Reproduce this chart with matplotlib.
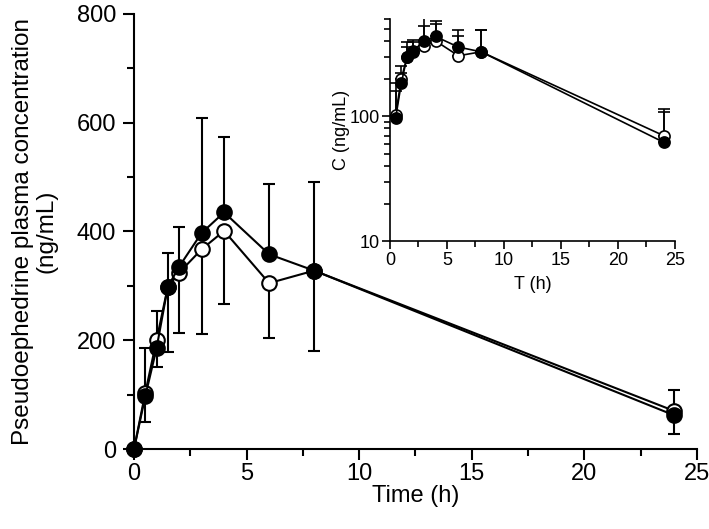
import matplotlib
matplotlib.use('Agg')
import matplotlib.pyplot as plt
import numpy as np
from matplotlib.ticker import MultipleLocator, LogLocator, NullFormatter, FixedLocator

# sampling times (h)
time = [0, 0.5, 1, 1.5, 2, 3, 4, 6, 8, 24]

# mean concentrations (ng/mL)
conc_open = [0, 103, 200, 298, 324, 367, 401, 305, 328, 70]
conc_filled = [0, 97, 185, 298, 335, 397, 435, 358, 328, 62]

# error bars (SD)
sd_filled_up = [0, 88, 69, 62, 74, 211, 139, 129, 163, 47]
sd_open_lo = [0, 53, 50, 119, 111, 156, 135, 100, 148, 43]
sd_open_up = [0, 57, 21, 95, 70, 165, 150, 130, 160, 44]

plt.rcParams['font.family'] = ['Liberation Sans', 'DejaVu Sans']

fig = plt.figure(figsize=(7.09, 5.29), dpi=100)
ax = fig.add_axes([0.189, 0.151, 0.794, 0.823])

zeros = [0] * len(time)
ax.errorbar(time, conc_open, yerr=[sd_open_lo, zeros], fmt='none',
            ecolor='black', elinewidth=1.5, capsize=4.5, capthick=1.5, zorder=2)
ax.errorbar(time, conc_filled, yerr=[zeros, sd_filled_up], fmt='none',
            ecolor='black', elinewidth=1.5, capsize=4.5, capthick=1.5, zorder=2)
ax.plot(time, conc_open, '-o', color='black', mfc='white', mec='black',
        ms=10.5, mew=1.5, lw=1.5, zorder=3, clip_on=False)
ax.plot(time, conc_filled, '-o', color='black', mfc='black', mec='black',
        ms=10.5, mew=1.5, lw=1.5, zorder=4, clip_on=False)

ax.set_xlim(0, 25)
ax.set_ylim(0, 800)
for s in ['top', 'right']:
    ax.spines[s].set_visible(False)
for s in ['left', 'bottom']:
    ax.spines[s].set_linewidth(1.5)
ax.xaxis.set_major_locator(MultipleLocator(5))
ax.xaxis.set_minor_locator(MultipleLocator(2.5))
ax.yaxis.set_major_locator(MultipleLocator(200))
ax.yaxis.set_minor_locator(MultipleLocator(100))
ax.tick_params(which='major', direction='out', length=8, width=1.5, labelsize=17)
ax.tick_params(axis='x', which='major', pad=2)
ax.tick_params(axis='y', which='major', pad=5)
ax.tick_params(which='minor', direction='out', length=5, width=1.5)
ax.set_xlabel('Time (h)', fontsize=17, labelpad=0)
ax.set_ylabel('Pseudoephedrine plasma concentration\n(ng/mL)', fontsize=17.5, labelpad=14,
              linespacing=1.05)

# inset with log scale
ins = fig.add_axes([0.550, 0.544, 0.402, 0.420])
t_in = time[1:]
none_lo = [0] * len(t_in)
ins.errorbar(t_in, conc_open[1:], yerr=[none_lo, sd_open_up[1:]], fmt='none',
             ecolor='black', elinewidth=1.2, capsize=4, capthick=1.2, zorder=2)
ins.errorbar(t_in, conc_filled[1:], yerr=[none_lo, sd_filled_up[1:]], fmt='none',
             ecolor='black', elinewidth=1.2, capsize=4, capthick=1.2, zorder=2)
ins.plot(t_in, conc_open[1:], '-o', color='black', mfc='white', mec='black',
         ms=8, mew=1.2, lw=1.2, zorder=3)
ins.plot(t_in, conc_filled[1:], '-o', color='black', mfc='black', mec='black',
         ms=8, mew=1.2, lw=1.2, zorder=4)
ins.set_yscale('log')
ins.set_xlim(0, 25)
ins.set_ylim(10, 600)
for s in ['top', 'right']:
    ins.spines[s].set_visible(False)
for s in ['left', 'bottom']:
    ins.spines[s].set_linewidth(1.2)
ins.xaxis.set_major_locator(MultipleLocator(5))
ins.xaxis.set_minor_locator(MultipleLocator(2.5))
ins.yaxis.set_major_locator(FixedLocator([10, 100]))
ins.yaxis.set_minor_locator(LogLocator(base=10, subs=np.arange(2, 10)))
ins.yaxis.set_minor_formatter(NullFormatter())
ins.set_yticklabels(['10', '100'])
ins.tick_params(which='major', direction='out', length=6, width=1.2, labelsize=13)
ins.tick_params(axis='x', which='major', pad=2)
ins.tick_params(axis='y', which='major', pad=1)
ins.tick_params(which='minor', direction='out', length=4, width=1.2)
ins.set_xlabel('T (h)', fontsize=13, labelpad=5)
ins.set_ylabel('C (ng/mL)', fontsize=13, labelpad=0)

fig.savefig('out.png', dpi=100)
